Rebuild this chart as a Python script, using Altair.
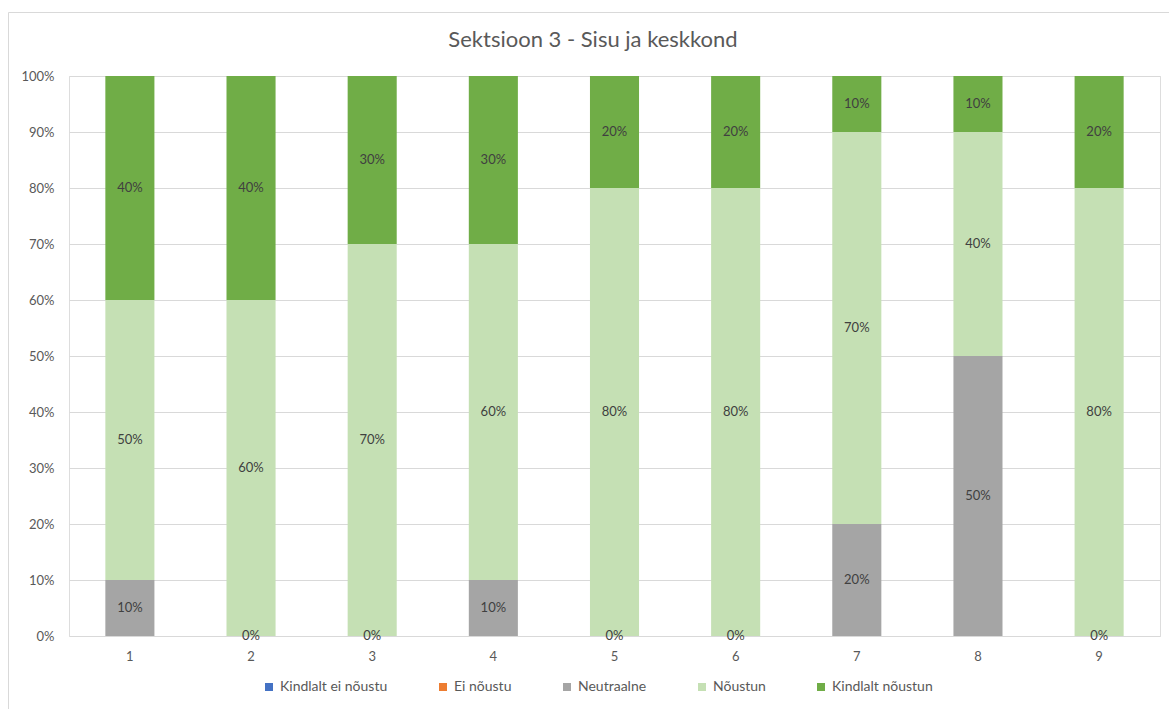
import altair as alt
import pandas as pd

# Survey answers per statement (share of respondents)
title_text = "Sektsioon 3 - Sisu ja keskkond"
questions = ["1", "2", "3", "4", "5", "6", "7", "8", "9"]
series = ["Kindlalt ei nõustu", "Ei nõustu", "Neutraalne", "Nõustun", "Kindlalt nõustun"]
colors = ["#4472C4", "#ED7D31", "#A5A5A5", "#C5E0B4", "#70AD47"]

kindlalt_ei_noustu = [0, 0, 0, 0, 0, 0, 0, 0, 0]
ei_noustu = [0, 0, 0, 0, 0, 0, 0, 0, 0]
neutraalne = [0.10, 0.00, 0.00, 0.10, 0.00, 0.00, 0.20, 0.50, 0.00]
noustun = [0.50, 0.60, 0.70, 0.60, 0.80, 0.80, 0.70, 0.40, 0.80]
kindlalt_noustun = [0.40, 0.40, 0.30, 0.30, 0.20, 0.20, 0.10, 0.10, 0.20]

# series whose segments carry a value label
labelled = ["Neutraalne", "Nõustun", "Kindlalt nõustun"]

values = [kindlalt_ei_noustu, ei_noustu, neutraalne, noustun, kindlalt_noustun]
rows = []
for rank, (name, vals) in enumerate(zip(series, values)):
    for q, v in zip(questions, vals):
        rows.append({"kysimus": q, "vastus": name, "osakaal": v, "jark": rank,
                     "silt": name in labelled})
df = pd.DataFrame(rows)

FONT = "Lato"
GRID = "#d9d9d9"
TEXT = "#595959"

base = alt.Chart(df).transform_stack(
    stack="osakaal",
    groupby=["kysimus"],
    sort=[alt.SortField("jark", order="ascending")],
    as_=["y0", "y1"],
).transform_calculate(keskel="(datum.y0 + datum.y1) / 2")

x_enc = alt.X(
    "kysimus:N",
    sort=questions,
    scale=alt.Scale(paddingInner=0.595, paddingOuter=0.3),
    axis=alt.Axis(title=None, labelAngle=0, ticks=False, domain=False,
                  labelPadding=14, labelFontSize=13, labelColor=TEXT, labelFont=FONT),
)

bars = base.mark_bar(strokeWidth=0).encode(
    x=x_enc,
    y=alt.Y(
        "y0:Q",
        scale=alt.Scale(domain=[0, 1], nice=False),
        axis=alt.Axis(title=None, values=[i / 10 for i in range(11)], format=".0%",
                      ticks=False, domain=False, grid=True, gridColor=GRID,
                      gridWidth=1, labelPadding=15, labelFontSize=13,
                      labelColor=TEXT, labelFont=FONT),
    ),
    y2="y1:Q",
    color=alt.Color(
        "vastus:N",
        scale=alt.Scale(domain=series, range=colors),
        sort=series,
        legend=alt.Legend(
            title=None, orient="none", direction="horizontal",
            legendX=193, legendY=604, symbolType="square", symbolSize=64,
            symbolStrokeWidth=0, labelFontSize=14, labelColor=TEXT, labelFont=FONT,
            labelOffset=4, columnPadding=48, padding=0,
        ),
    ),
    order=alt.Order("jark:Q"),
)

labels = base.transform_filter("datum.silt").mark_text(
    fontSize=13, color="#404040", font=FONT, baseline="middle", align="center"
).encode(
    x=alt.X("kysimus:N", sort=questions),
    y=alt.Y("keskel:Q"),
    text=alt.Text("osakaal:Q", format=".0%"),
)

# light frame around the chart area
frame = alt.Chart(alt.Data(values=[{}])).mark_rect(
    fill=None, stroke=GRID, strokeWidth=1
).encode(
    x=alt.value(-60.5), x2=alt.value(1200),
    y=alt.value(-63.5), y2=alt.value(700),
)

# chart heading, placed above the plot area
heading = alt.Chart(alt.Data(values=[{"t": title_text}])).mark_text(
    fontSize=22, font=FONT, color=TEXT, align="center", baseline="alphabetic"
).encode(
    x=alt.value(524), y=alt.value(-29), text="t:N",
)

chart = alt.layer(frame, bars, labels, heading).properties(
    width=1091,
    height=560,
    padding={"left": 69, "top": 76, "right": 9, "bottom": 73},
    autosize=alt.AutoSizeParams(type="none"),
).configure_view(stroke=None).configure(background="white")

chart.save("out.html", embed_options={"renderer": "svg", "actions": False})
